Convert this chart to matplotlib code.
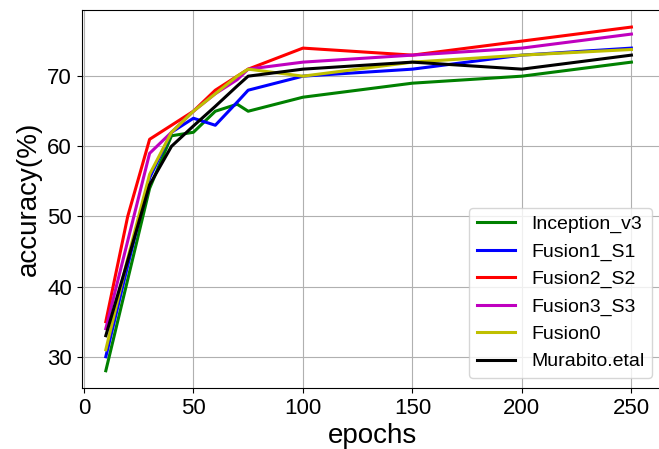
import matplotlib
matplotlib.use("Agg")
import matplotlib.pyplot as plt

plt.rcParams['font.family'] = ['Liberation Sans', 'DejaVu Sans']

# epochs at which accuracy was read
epochs = [10, 20, 30, 40, 50, 60, 70, 75, 100, 150, 200, 250]

inception_v3 = [28, 41, 54, 61.5, 62, 65, 66, 65, 67, 69, 70, 72]
fusion1_s1 = [30, 43, 55.5, 62, 64, 63, 66.3, 68, 70, 71, 73, 74]
fusion2_s2 = [35, 50, 61, 63, 65, 68, 70, 71, 74, 73, 75, 77]
fusion3_s3 = [34, 46.5, 59, 62, 65, 67.5, 69.5, 71, 72, 73, 74, 76]
fusion0 = [31, 44, 56, 62, 65, 67.5, 70, 71, 70, 72, 73, 73.8]
murabito = [33, 43.7, 54.5, 60, 62.9, 65.7, 68.6, 70, 71, 72, 71, 73]

fig = plt.figure(figsize=(6.59, 4.49), dpi=100)
# the original picture was cropped, so the right edge of the axes sits outside the frame
ax = fig.add_axes([0.124, 0.136, 0.884, 0.842])

ax.plot(epochs, inception_v3, color='g', linewidth=2.2, label='Inception_v3')
ax.plot(epochs, fusion1_s1, color='b', linewidth=2.2, label='Fusion1_S1')
ax.plot(epochs, fusion2_s2, color='r', linewidth=2.2, label='Fusion2_S2')
ax.plot(epochs, fusion3_s3, color='m', linewidth=2.2, label='Fusion3_S3')
ax.plot(epochs, fusion0, color='y', linewidth=2.2, label='Fusion0')
ax.plot(epochs, murabito, color='k', linewidth=2.2, label='Murabito.etal')

ax.set_xlim(-1, 265)
ax.set_xticks([0, 50, 100, 150, 200, 250])
ax.set_yticks([30, 40, 50, 60, 70])
ax.tick_params(labelsize=16)
ax.set_xlabel('epochs', fontsize=20, labelpad=3)
ax.set_ylabel('accuracy(%)', fontsize=20)
ax.spines['right'].set_visible(False)
ax.grid(True)
ax.legend(loc='lower right', fontsize=14, bbox_to_anchor=(0.9957, 0.0))

fig.savefig('out.png', dpi=100)
